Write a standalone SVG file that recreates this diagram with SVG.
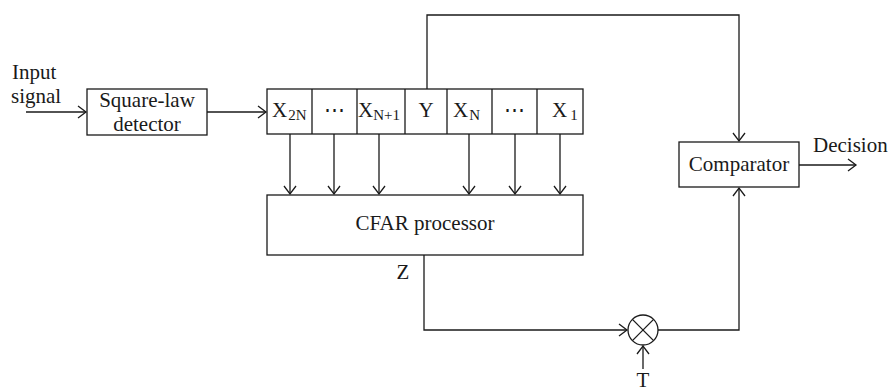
<svg xmlns="http://www.w3.org/2000/svg" width="891" height="392" viewBox="0 0 891 392">
<style>
text{font-family:"Liberation Serif","DejaVu Serif",serif;font-size:21px;fill:#1a1a1a}
.sub{font-size:15px}
.box{fill:#fff;stroke:#1a1a1a;stroke-width:1.3}
.ln{fill:none;stroke:#1a1a1a;stroke-width:1.3}
</style>
<defs>
<marker id="ah" markerUnits="userSpaceOnUse" markerWidth="12" markerHeight="14" viewBox="-10 -7 12 14" refX="0" refY="0" orient="auto">
<path d="M-8,-6 L0,0 L-8,6" fill="none" stroke="#1a1a1a" stroke-width="1.3"/>
</marker>
</defs>
<rect width="891" height="392" fill="#fff"/>
<g id="connectors">
<line class="ln" x1="26" y1="112" x2="86" y2="112" marker-end="url(#ah)"/>
<line class="ln" x1="207" y1="112" x2="266" y2="112" marker-end="url(#ah)"/>
<polyline class="ln" points="427,89 427,15 739,15 739,141" marker-end="url(#ah)"/>
<line class="ln" x1="799" y1="165" x2="856" y2="165" marker-end="url(#ah)"/>
<line class="ln" x1="290" y1="134" x2="290" y2="194" marker-end="url(#ah)"/>
<line class="ln" x1="334" y1="134" x2="334" y2="194" marker-end="url(#ah)"/>
<line class="ln" x1="379" y1="134" x2="379" y2="194" marker-end="url(#ah)"/>
<line class="ln" x1="469" y1="134" x2="469" y2="194" marker-end="url(#ah)"/>
<line class="ln" x1="515" y1="134" x2="515" y2="194" marker-end="url(#ah)"/>
<line class="ln" x1="560" y1="134" x2="560" y2="194" marker-end="url(#ah)"/>
<polyline class="ln" points="424,255 424,330 627,330" marker-end="url(#ah)"/>
<polyline class="ln" points="658,330 739,330 739,188" marker-end="url(#ah)"/>
<line class="ln" x1="643" y1="369" x2="643" y2="346" marker-end="url(#ah)"/>
</g>
<g id="input-label">
<text x="12" y="79">Input</text>
<text x="11" y="103">signal</text>
</g>
<g id="square-law">
<rect class="box" x="87" y="89" width="120" height="46"/>
<text x="147" y="107" text-anchor="middle">Square-law</text>
<text x="147" y="131" text-anchor="middle">detector</text>
</g>
<g id="register">
<rect class="box" x="267" y="89" width="316" height="45"/>
<line class="ln" x1="312" y1="89" x2="312" y2="134"/>
<line class="ln" x1="357" y1="89" x2="357" y2="134"/>
<line class="ln" x1="405" y1="89" x2="405" y2="134"/>
<line class="ln" x1="447" y1="89" x2="447" y2="134"/>
<line class="ln" x1="492" y1="89" x2="492" y2="134"/>
<line class="ln" x1="537" y1="89" x2="537" y2="134"/>
<text x="272" y="117">X<tspan class="sub" dx="1" dy="3">2N</tspan></text>
<text x="334" y="117" text-anchor="middle">⋯</text>
<text x="358" y="117">X<tspan class="sub" dx="0" dy="3">N+1</tspan></text>
<text x="426" y="117" text-anchor="middle">Y</text>
<text x="453" y="117">X<tspan class="sub" dx="1" dy="3">N</tspan></text>
<text x="514" y="117" text-anchor="middle">⋯</text>
<text x="552" y="117">X<tspan class="sub" dx="3" dy="3">1</tspan></text>
</g>
<g id="cfar">
<rect class="box" x="267" y="195" width="316" height="60"/>
<text x="425" y="230" text-anchor="middle">CFAR processor</text>
<text x="403" y="279" text-anchor="middle">Z</text>
</g>
<g id="comparator">
<rect class="box" x="679" y="142" width="120" height="45"/>
<text x="739" y="171" text-anchor="middle">Comparator</text>
<text x="813" y="152">Decision</text>
</g>
<g id="multiplier">
<circle class="ln" cx="643" cy="330" r="15"/>
<line class="ln" x1="632.4" y1="319.4" x2="653.6" y2="340.6"/>
<line class="ln" x1="653.6" y1="319.4" x2="632.4" y2="340.6"/>
<text x="643" y="387" text-anchor="middle">T</text>
</g>
</svg>
